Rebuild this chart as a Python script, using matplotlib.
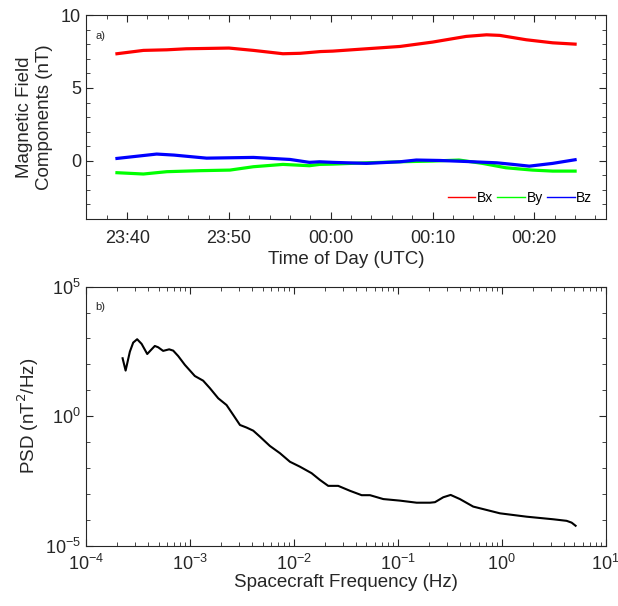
import numpy as np
import matplotlib
matplotlib.use("Agg")
import matplotlib.pyplot as plt
import matplotlib.dates as mdates
import matplotlib.ticker as mticker
from datetime import datetime, timedelta

plt.rcParams['font.family'] = ['Liberation Sans', 'DejaVu Sans']

# ---- data (a): magnetic field components, minutes after 23:40 UTC ----
bx_min = [-1, 1.6, 3.9, 5.8, 10, 12.4, 15.3, 17, 19, 20.2, 23.5, 26.8, 30, 33.3, 35.3, 36.6, 39.2, 41.8, 44]
bx_val = [7.35, 7.58, 7.62, 7.69, 7.74, 7.58, 7.35, 7.38, 7.50, 7.53, 7.69, 7.85, 8.15, 8.54, 8.65, 8.61, 8.31, 8.10, 8.01]

by_min = [-1, 1.6, 3.9, 7.2, 10.1, 12.4, 15.3, 17.9, 18.9, 20.2, 23.5, 26.8, 30, 32.6, 34.9, 37.2, 39.8, 41.8, 44]
by_val = [-0.82, -0.91, -0.75, -0.68, -0.64, -0.41, -0.25, -0.34, -0.25, -0.23, -0.14, -0.07, -0.02, 0.05, -0.18, -0.48, -0.64, -0.71, -0.71]

bz_min = [-1, 2.9, 4.6, 7.8, 12.4, 16.0, 17.9, 18.9, 20.2, 23.5, 26.8, 28.4, 30.7, 33.3, 36.3, 37.9, 39.5, 41.8, 44]
bz_val = [0.16, 0.46, 0.39, 0.18, 0.23, 0.09, -0.11, -0.07, -0.11, -0.18, -0.07, 0.05, 0.02, -0.05, -0.14, -0.25, -0.37, -0.18, 0.07]

# ---- data (b): PSD (log10 frequency, log10 PSD) ----
log_f = [-3.647, -3.618, -3.577, -3.545, -3.507, -3.464, -3.410, -3.368, -3.337, -3.305,
         -3.257, -3.199, -3.160, -3.112, -3.048, -2.952, -2.872, -2.807, -2.727, -2.647,
         -2.583, -2.518, -2.454, -2.390, -2.326, -2.230, -2.133, -2.037, -1.941, -1.829,
         -1.749, -1.669, -1.573, -1.460, -1.347, -1.267, -1.139, -0.979, -0.818, -0.690,
         -0.642, -0.562, -0.491, -0.402, -0.274, -0.017, 0.240, 0.496, 0.625, 0.673, 0.711]
log_psd = [2.236, 1.76, 2.49, 2.84, 2.97, 2.79, 2.40, 2.58, 2.71, 2.66,
           2.52, 2.58, 2.53, 2.32, 1.98, 1.55, 1.37, 1.08, 0.69, 0.43,
           0.05, -0.34, -0.44, -0.56, -0.79, -1.15, -1.43, -1.76, -1.95, -2.20,
           -2.46, -2.69, -2.69, -2.88, -3.05, -3.05, -3.20, -3.26, -3.34, -3.34,
           -3.32, -3.13, -3.04, -3.20, -3.49, -3.75, -3.88, -3.98, -4.04, -4.11, -4.23]

base = datetime(2020, 1, 1, 23, 40)
def to_time(mins):
    return [base + timedelta(minutes=m) for m in mins]

freq = 10 ** np.array(log_f)
psd = 10 ** np.array(log_psd)

gray = '#262626'
fig = plt.figure(figsize=(6.18, 6.06), dpi=100)
ax1 = fig.add_axes([0.139, 0.6386, 0.841, 0.3364])
ax2 = fig.add_axes([0.139, 0.0995, 0.841, 0.4275])

lw = 2.3
ax1.plot(to_time(bx_min), bx_val, color='#ff0000', lw=lw, label='Bx')
ax1.plot(to_time(by_min), by_val, color='#00ff00', lw=lw, label='By')
ax1.plot(to_time(bz_min), bz_val, color='#0000ff', lw=lw, label='Bz')
ax1.set_ylim(-4, 10)
ax1.set_xlim(base + timedelta(minutes=-4.05), base + timedelta(minutes=47.0))
ax1.yaxis.set_major_locator(mticker.FixedLocator([0, 5, 10]))
ax1.yaxis.set_minor_locator(mticker.MultipleLocator(1))
ax1.xaxis.set_major_locator(mdates.MinuteLocator(byminute=range(0, 60, 10)))
ax1.xaxis.set_minor_locator(mdates.MinuteLocator(byminute=range(0, 60, 2)))
ax1.xaxis.set_major_formatter(mdates.DateFormatter('%H:%M'))
ax1.set_xlabel('Time of Day (UTC)', fontsize=13.5, color=gray, labelpad=3)
ax1.set_ylabel('Magnetic Field\nComponents (nT)', fontsize=13.5, color=gray, labelpad=6)
ax1.text(0.018, 0.885, 'a)', transform=ax1.transAxes, fontsize=8, color=gray)
leg = ax1.legend(loc='lower right', ncol=3, frameon=False, fontsize=10,
                 handlelength=2.0, handletextpad=0.1, columnspacing=0.3,
                 borderaxespad=0.2, bbox_to_anchor=(0.99, 0.03))
for h in leg.get_lines():
    h.set_linewidth(1.0)

ax2.plot(freq, psd, color='black', lw=1.5)
ax2.set_xscale('log')
ax2.set_yscale('log')
ax2.set_xlim(1e-4, 1e1)
ax2.set_ylim(1e-5, 1e5)
ax2.yaxis.set_major_locator(mticker.FixedLocator([1e-5, 1e0, 1e5]))
ax2.yaxis.set_minor_locator(mticker.FixedLocator([10.0 ** k for k in range(-5, 6)]))
ax2.yaxis.set_minor_formatter(mticker.NullFormatter())
ax2.xaxis.set_major_locator(mticker.LogLocator(base=10, numticks=10))
ax2.xaxis.set_minor_locator(mticker.LogLocator(base=10, subs=np.arange(2, 10), numticks=20))
ax2.xaxis.set_minor_formatter(mticker.NullFormatter())
ax2.set_xlabel('Spacecraft Frequency (Hz)', fontsize=13.5, color=gray, labelpad=0)
ax2.set_ylabel('PSD (nT$^2$/Hz)', fontsize=13.5, color=gray, labelpad=3)
ax2.text(0.018, 0.91, 'b)', transform=ax2.transAxes, fontsize=8, color=gray)

for ax in (ax1, ax2):
    for s in ax.spines.values():
        s.set_color(gray)
        s.set_linewidth(0.8)
    ax.tick_params(which='both', direction='in', top=True, right=True, colors=gray,
                   labelsize=13)
    ax.tick_params(which='major', length=5, width=0.8)
    ax.tick_params(which='minor', length=3, width=0.6)
ax1.tick_params(axis='x', which='major', pad=8)
ax2.tick_params(axis='x', which='major', pad=6)

fig.savefig('out.png', dpi=100)
